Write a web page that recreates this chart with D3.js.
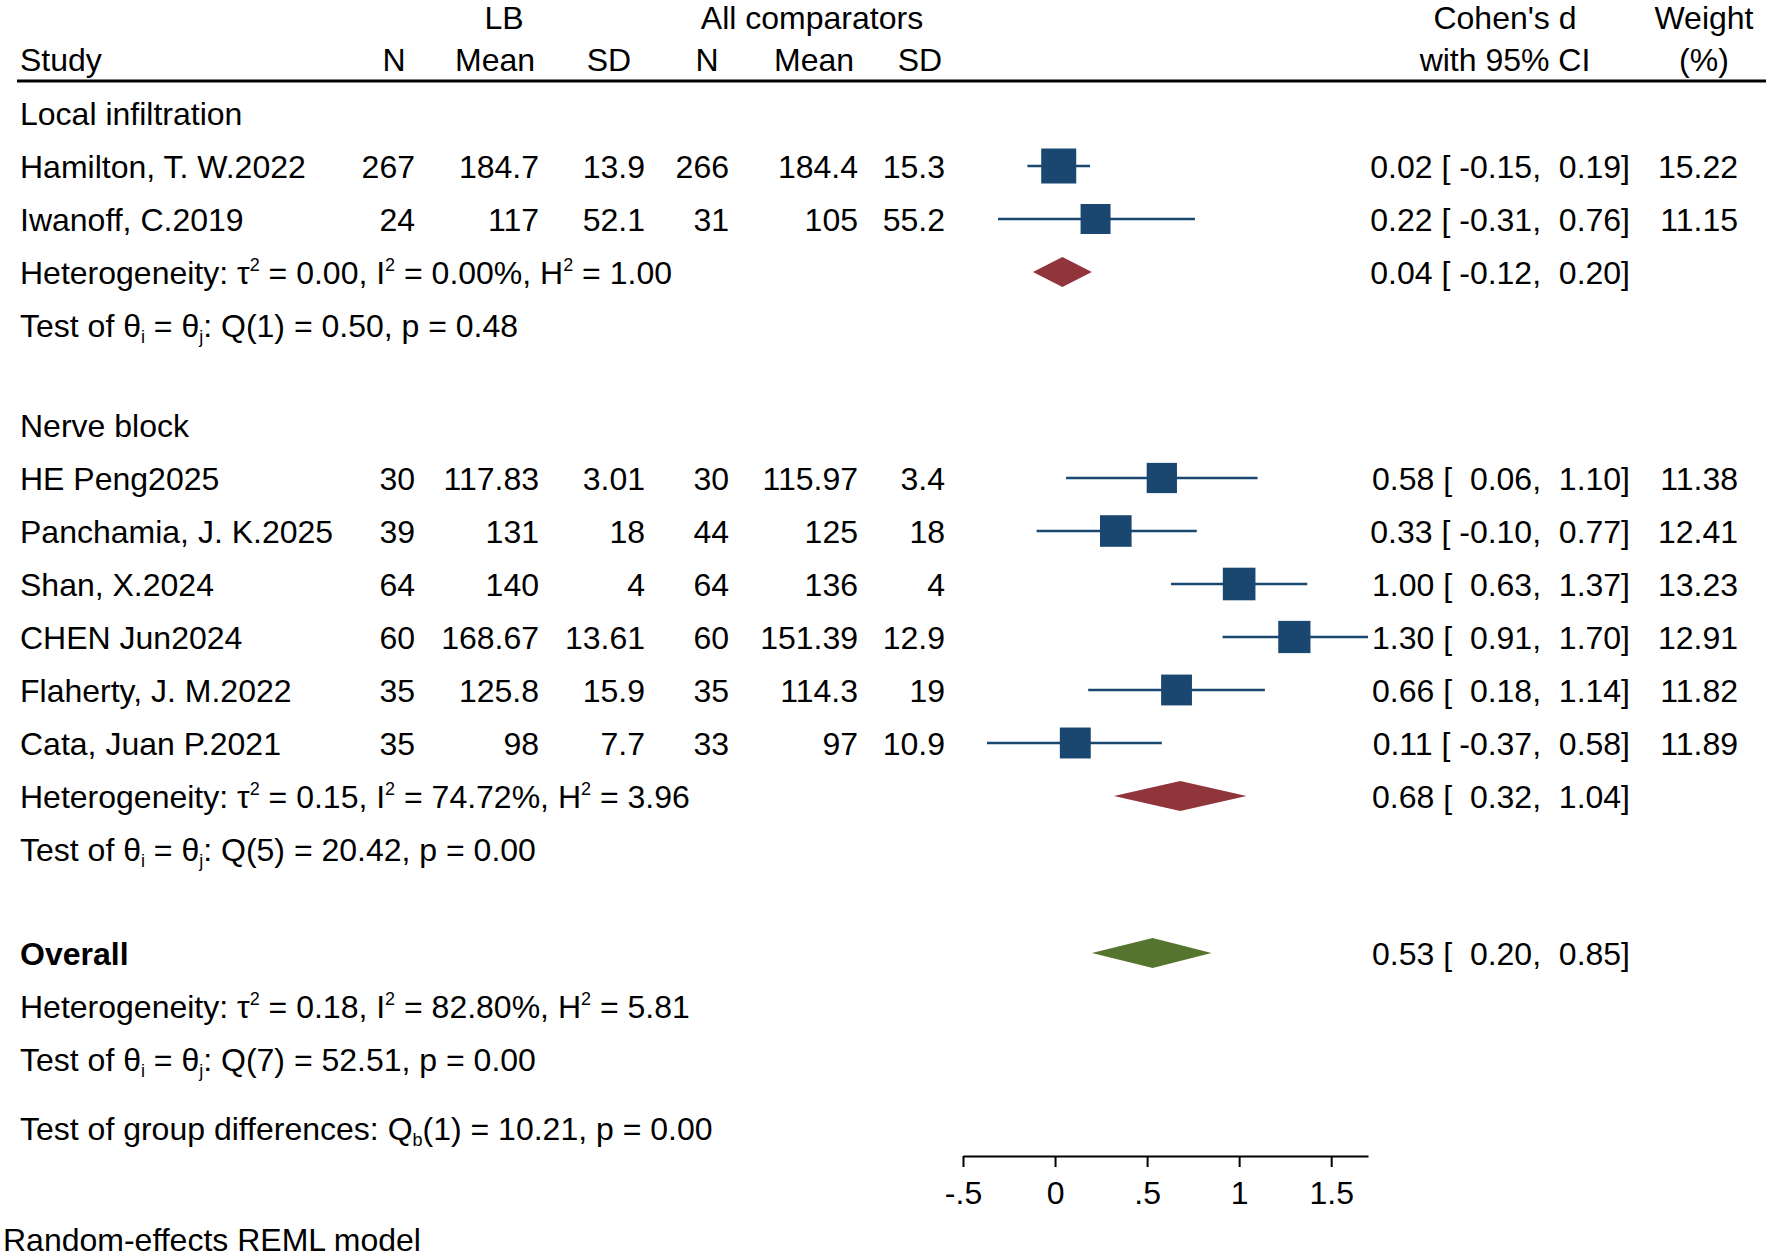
<!DOCTYPE html>
<html>
<head>
<meta charset="utf-8">
<script src="https://cdn.jsdelivr.net/npm/d3@7"></script>
<style>
  body { margin: 0; background: #fff; }
  text { font-family: "Liberation Sans", Arial, sans-serif; fill: #000; }
</style>
</head>
<body>
<div id="chart"></div>
<script>
// study level data
var groupNames = ["Local infiltration", "Nerve block"];
var studies = ["Hamilton, T. W.2022", "Iwanoff, C.2019",
  "HE Peng2025", "Panchamia, J. K.2025", "Shan, X.2024", "CHEN Jun2024",
  "Flaherty, J. M.2022", "Cata, Juan P.2021"];
var studyGroup = [0, 0, 1, 1, 1, 1, 1, 1];
var lbN    = [267, 24, 30, 39, 64, 60, 35, 35];
var lbMean = [184.7, 117, 117.83, 131, 140, 168.67, 125.8, 98];
var lbSD   = [13.9, 52.1, 3.01, 18, 4, 13.61, 15.9, 7.7];
var cN     = [266, 31, 30, 44, 64, 60, 35, 33];
var cMean  = [184.4, 105, 115.97, 125, 136, 151.39, 114.3, 97];
var cSD    = [15.3, 55.2, 3.4, 18, 4, 12.9, 19, 10.9];
var effect = [0.02, 0.22, 0.58, 0.33, 1.00, 1.30, 0.66, 0.11];
var ciLow  = [-0.15, -0.31, 0.06, -0.10, 0.63, 0.91, 0.18, -0.37];
var ciHigh = [0.19, 0.76, 1.10, 0.77, 1.37, 1.70, 1.14, 0.58];
var weight = [15.22, 11.15, 11.38, 12.41, 13.23, 12.91, 11.82, 11.89];

// subgroup summaries
var grpEffect = [0.04, 0.68];
var grpLow    = [-0.12, 0.32];
var grpHigh   = [0.20, 1.04];
var grpTau2   = ["0.00", "0.15"];
var grpI2     = ["0.00", "74.72"];
var grpH2     = ["1.00", "3.96"];
var grpQdf    = [1, 5];
var grpQ      = ["0.50", "20.42"];
var grpP      = ["0.48", "0.00"];

// overall
var overall = { d: 0.53, lo: 0.20, hi: 0.85, tau2: "0.18", i2: "82.80", h2: "5.81", df: 7, q: "52.51", p: "0.00" };
var groupDiff = { df: 1, q: "10.21", p: "0.00" };

var tickValues = [-0.5, 0, 0.5, 1, 1.5];
var tickLabels = ["-.5", "0", ".5", "1", "1.5"];

var width = 1772, height = 1256;
var fs = 32;
var base = 11.5; // baseline offset from row centre
var navy = "#1a476f", maroon = "#90353b", green = "#55752f";

var svg = d3.select("#chart").append("svg")
  .attr("width", width).attr("height", height);

var x = d3.scaleLinear().domain([-0.5, 1.7]).range([963, 1368]);

// column right edges for the numeric table
var colRight = { n1: 415, m1: 539, s1: 645, n2: 729, m2: 858, s2: 945, ci: 1630, w: 1738 };

function txt(xp, yp, s, anchor) {
  return svg.append("text")
    .attr("x", xp).attr("y", yp + base)
    .attr("text-anchor", anchor || "start")
    .style("font-size", fs + "px")
    .style("white-space", "pre")
    .text(s);
}

// rich text: parts are [string, "sup"|"sub"|undefined]
function rich(xp, yp, parts) {
  var t = svg.append("text")
    .attr("x", xp).attr("y", yp + base)
    .style("font-size", fs + "px")
    .style("white-space", "pre");
  var shift = 0;
  parts.forEach(function (p) {
    var target = p[1] === "sup" ? -13 : p[1] === "sub" ? 6 : 0;
    t.append("tspan")
      .attr("dy", target - shift)
      .style("font-size", p[1] ? "18px" : fs + "px")
      .text(p[0]);
    shift = target;
  });
  return t;
}

function pad(v) { return v < 0 ? v.toFixed(2) : " " + v.toFixed(2); }
function fmtCI(d, lo, hi) {
  return d.toFixed(2) + " [ " + pad(lo) + ", " + pad(hi) + "]";
}

function hetParts(tau2, i2, h2) {
  return [["Heterogeneity: \u03C4"], ["2", "sup"], [" = " + tau2 + ", I"], ["2", "sup"],
    [" = " + i2 + "%, H"], ["2", "sup"], [" = " + h2]];
}
function testParts(df, q, p) {
  return [["Test of \u03B8"], ["i", "sub"], [" = \u03B8"], ["j", "sub"],
    [": Q(" + df + ") = " + q + ", p = " + p]];
}

function diamond(cy, d, lo, hi, color) {
  svg.append("path")
    .attr("d", "M" + x(lo) + "," + cy + "L" + x(d) + "," + (cy - 15) +
      "L" + x(hi) + "," + cy + "L" + x(d) + "," + (cy + 15) + "Z")
    .attr("fill", color);
}

// header
txt(504, 17, "LB", "middle");
txt(812, 17, "All comparators", "middle");
txt(1505, 17, "Cohen's d", "middle");
txt(1704, 17, "Weight", "middle");
txt(20, 59, "Study");
[[394, "N"], [495, "Mean"], [609, "SD"], [707, "N"], [814, "Mean"], [920, "SD"]].forEach(function (h) {
  txt(h[0], 59, h[1], "middle");
});
txt(1505, 59, "with 95% CI", "middle");
txt(1704, 59, "(%)", "middle");
svg.append("line").attr("x1", 17).attr("x2", 1766).attr("y1", 81).attr("y2", 81)
  .attr("stroke", "#000").attr("stroke-width", 3);

// rows
var pitch = 53, y = 113;
groupNames.forEach(function (g, gi) {
  txt(20, y, g);
  y += pitch;
  studies.forEach(function (s, i) {
    if (studyGroup[i] !== gi) return;
    txt(20, y, s);
    txt(colRight.n1, y, String(lbN[i]), "end");
    txt(colRight.m1, y, String(lbMean[i]), "end");
    txt(colRight.s1, y, String(lbSD[i]), "end");
    txt(colRight.n2, y, String(cN[i]), "end");
    txt(colRight.m2, y, String(cMean[i]), "end");
    txt(colRight.s2, y, String(cSD[i]), "end");
    svg.append("line")
      .attr("x1", x(ciLow[i])).attr("x2", x(ciHigh[i]))
      .attr("y1", y).attr("y2", y)
      .attr("stroke", navy).attr("stroke-width", 2.5);
    var side = 8.97 * Math.sqrt(weight[i]);
    svg.append("rect")
      .attr("x", x(effect[i]) - side / 2).attr("y", y - side / 2)
      .attr("width", side).attr("height", side)
      .attr("fill", navy);
    txt(colRight.ci, y, fmtCI(effect[i], ciLow[i], ciHigh[i]), "end");
    txt(colRight.w, y, weight[i].toFixed(2), "end");
    y += pitch;
  });
  rich(20, y, hetParts(grpTau2[gi], grpI2[gi], grpH2[gi]));
  diamond(y, grpEffect[gi], grpLow[gi], grpHigh[gi], maroon);
  txt(colRight.ci, y, fmtCI(grpEffect[gi], grpLow[gi], grpHigh[gi]), "end");
  y += pitch;
  rich(20, y, testParts(grpQdf[gi], grpQ[gi], grpP[gi]));
  y += gi === groupNames.length - 1 ? 104 : 100;
});

// overall
txt(20, y, "Overall").style("font-weight", "bold");
diamond(y, overall.d, overall.lo, overall.hi, green);
txt(colRight.ci, y, fmtCI(overall.d, overall.lo, overall.hi), "end");
y += pitch;
rich(20, y, hetParts(overall.tau2, overall.i2, overall.h2));
y += pitch;
rich(20, y, testParts(overall.df, overall.q, overall.p));
y += 69;
rich(20, y, [["Test of group differences: Q"], ["b", "sub"],
  ["(" + groupDiff.df + ") = " + groupDiff.q + ", p = " + groupDiff.p]]);

// x axis
var axis = svg.append("g").attr("transform", "translate(0,1156)")
  .call(d3.axisBottom(x).tickValues(tickValues)
    .tickFormat(function (d, i) { return tickLabels[i]; })
    .tickSize(11).tickSizeOuter(0).tickPadding(14));
axis.select(".domain").attr("stroke-width", 2);
axis.selectAll(".tick line").attr("stroke-width", 2);
axis.selectAll(".tick text").style("font-size", fs + "px")
  .style("font-family", "'Liberation Sans', Arial, sans-serif");

txt(3, 1239, "Random-effects REML model");
</script>
</body>
</html>
